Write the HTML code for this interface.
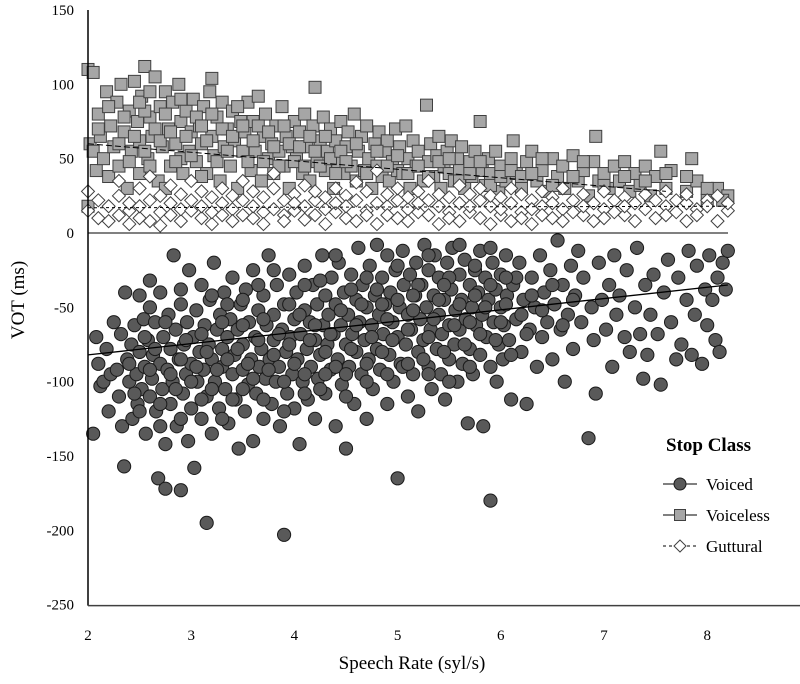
<!DOCTYPE html>
<html><head><meta charset="utf-8"><style>
body{margin:0;background:#fff;width:800px;height:684px;overflow:hidden}
svg{display:block;font-family:"Liberation Serif",serif}
</style></head><body>
<svg id="chart" width="800" height="684" viewBox="0 0 800 684">
<g id="marks"></g>
<g id="axes"></g>
</svg>
<script>
const xTicks=[2,3,4,5,6,7,8];
const yTicks=[150,100,50,0,-50,-100,-150,-200,-250];
const voicedXa=[2.05,2.08,2.1,2.12,2.15,2.18,2.2,2.22,2.28,2.3,2.32,2.33,2.35,2.36,2.38,2.4,2.42,2.43,2.45,2.47,2.48,2.5,2.5,2.52,2.54,2.55,2.56,2.58,2.6,2.6,2.62,2.63,2.65,2.66,2.68,2.7,2.7,2.72,2.73,2.75,2.75,2.77,2.78,2.8,2.8,2.82,2.83,2.85,2.86,2.88,2.9,2.9,2.92,2.93,2.95,2.96,2.97,2.98,3.0,3.0,3.02,3.03,3.05,3.06,3.08,3.1,3.1,3.12,3.13,3.15,3.15,3.17,3.18,3.2,3.2,3.22,3.23,3.25,3.27,3.28,3.3,3.3,3.32,3.33,3.35,3.36,3.38,3.4,3.4,3.42,3.43,3.45,3.46,3.48,3.5,3.5,3.52,3.53,3.55,3.56,3.58,3.6,3.6,3.62,3.63,3.65,3.66,3.68,3.7,3.7,3.72,3.73,3.75,3.76,3.78,3.8,3.8,3.82,3.83,3.85,3.86,3.88,3.9,3.9,3.92,3.93,3.95,3.96,3.98,4.0,4.0,4.02,4.03,4.05,4.06,4.08,4.1,4.1,4.12,4.13,4.15,4.16,4.18,4.2,4.2,4.22,4.23,4.25,4.27,4.28,4.3,4.3,4.32,4.33,4.35,4.36,4.38,4.4,4.4,4.42,4.43,4.45,4.46,4.48,4.5,4.5,4.52,4.53,4.55,4.56,4.58,4.6,4.6,4.62,4.63,4.65,4.66,4.68,4.7,4.7,4.72,4.73,4.75,4.76,4.78,4.8,4.8,4.82,4.83,4.85,4.86,4.88,4.9,4.9,4.92,4.93,4.95,4.96,4.98,5.0,5.0,5.02,5.03,5.05,5.06,5.08,5.1,5.1,5.12,5.13,5.15,5.17,5.18,5.2,5.2,5.22,5.23,5.25,5.26,5.28,5.3,5.3,5.32,5.33,5.35,5.36,5.38,5.4,5.4,5.42,5.43,5.45,5.46,5.48,5.5,5.5,5.52,5.53,5.55,5.56,5.58,5.6,5.6,5.62,5.63,5.65,5.66,5.68,5.7,5.7,5.72,5.73,5.75,5.76,5.78,5.8,5.8,5.82,5.83,5.85,5.86,5.88,5.9,5.9,5.92,5.93,5.95,5.96,5.98,6.0,6.0,6.02,6.03,6.05,6.06,6.08,6.1,6.12,6.15,6.18,6.2,6.22,6.25,6.28,6.3,6.33,6.35,6.38,6.4,6.42,6.45,6.48,6.5,6.52,6.55,6.58,6.6,6.62,6.65,6.68,6.7,6.72,6.75,6.78,6.8,6.85,6.88,6.9,6.92,6.95,6.98,7.02,7.05,7.08,7.1,7.12,7.15,7.2,7.22,7.25,7.3,7.32,7.35,7.38,7.4,7.42,7.45,7.48,7.52,7.55,7.58,7.62,7.65,7.7,7.72,7.75,7.8,7.82,7.85,7.88,7.9,7.95,7.98,8.0,8.02,8.05,8.08,8.1,8.12,8.15,8.18,8.2];
const voicedYa=[-135,-70,-88,-103,-100,-78,-120,-95,-92,-110,-68,-130,-157,-40,-85,-100,-75,-125,-62,-95,-115,-80,-42,-105,-58,-90,-135,-72,-110,-50,-98,-82,-60,-120,-165,-88,-40,-105,-70,-172,-142,-92,-55,-115,-78,-100,-15,-65,-130,-85,-173,-48,-108,-75,-95,-60,-140,-25,-88,-118,-70,-158,-52,-100,-80,-125,-35,-92,-62,-195,-110,-75,-45,-135,-85,-20,-100,-65,-118,-55,-90,-78,-40,-105,-70,-128,-58,-95,-30,-82,-112,-65,-145,-48,-92,-75,-120,-38,-102,-60,-85,-140,-25,-70,-108,-52,-90,-78,-125,-42,-98,-62,-15,-85,-115,-55,-72,-100,-35,-90,-130,-65,-203,-48,-80,-108,-28,-70,-95,-58,-118,-40,-85,-142,-68,-100,-22,-52,-78,-112,-60,-90,-35,-72,-125,-48,-98,-82,-15,-62,-108,-42,-75,-55,-92,-30,-68,-130,-48,-85,-20,-62,-102,-40,-75,-145,-55,-90,-28,-68,-115,-45,-80,-10,-60,-95,-35,-72,-50,-125,-85,-22,-62,-105,-42,-78,-8,-55,-92,-30,-68,-48,-115,-15,-82,-40,-60,-100,-25,-165,-70,-50,-88,-12,-35,-75,-110,-55,-28,-65,-95,-42,-20,-80,-120,-58,-35,-72,-8,-50,-90,-25,-65,-105,-42,-15,-78,-55,-30,-95,-68,-45,-112,-20,-62,-85,-38,-10,-75,-52,-100,-28,-65,-45,-88,-18,-58,-128,-35,-78,-50,-95,-25,-62,-40,-12,-82,-55,-130,-30,-70,-45,-180,-90,-20,-60,-38,-100,-75,-50,-28,-85,-62,-15,-42,-72,-112,-35,-58,-20,-80,-45,-115,-65,-30,-50,-90,-15,-70,-40,-60,-25,-85,-48,-5,-65,-35,-100,-55,-22,-78,-42,-12,-60,-30,-138,-50,-72,-108,-20,-45,-65,-35,-90,-15,-55,-42,-70,-25,-80,-50,-10,-68,-98,-35,-82,-55,-28,-68,-102,-40,-18,-60,-85,-30,-75,-45,-12,-82,-55,-22,-88,-38,-62,-15,-45,-72,-30,-80,-20,-38,-12];
const voicedXb=[2.25,2.4,2.45,2.55,2.6,2.65,2.7,2.75,2.8,2.85,2.9,2.95,3.0,3.05,3.1,3.15,3.2,3.25,3.3,3.35,3.4,3.45,3.5,3.55,3.6,3.65,3.7,3.75,3.8,3.85,3.9,3.95,4.0,4.05,4.1,4.15,4.2,4.25,4.3,4.35,4.4,4.45,4.5,4.55,4.6,4.65,4.7,4.75,4.8,4.85,4.9,4.95,5.0,5.05,5.1,5.15,5.2,5.25,5.3,5.35,5.4,5.45,5.5,5.55,5.6,5.65,5.7,5.75,5.8,5.85,5.9,5.95,6.0,6.05,6.1,6.15,6.2,6.25,6.3,6.4,6.5,6.6,6.7,2.5,2.7,2.9,3.1,3.3,3.5,3.7,3.9,4.1,4.3,4.5,4.7,4.9,5.1,5.3,5.5,5.7,2.6,2.9,3.2,3.5,3.8,4.1,4.4,4.7,5.0,5.3,5.6,5.9,3.35,3.65,3.95,4.25,4.55,4.85,5.15,5.45,5.75,6.05];
const voicedYb=[-60,-88,-108,-70,-92,-78,-115,-60,-95,-105,-85,-72,-100,-90,-68,-80,-105,-92,-60,-85,-112,-78,-62,-88,-98,-72,-58,-92,-82,-68,-100,-75,-88,-55,-95,-72,-62,-105,-80,-68,-90,-52,-95,-78,-62,-48,-88,-70,-38,-80,-58,-72,-45,-90,-65,-52,-35,-85,-70,-58,-45,-80,-30,-62,-48,-75,-60,-42,-68,-50,-35,-72,-60,-48,-82,-30,-55,-68,-42,-52,-35,-62,-45,-120,-130,-125,-112,-125,-105,-112,-120,-108,-95,-110,-100,-95,-88,-95,-100,-90,-32,-38,-42,-45,-25,-35,-15,-30,-22,-15,-8,-10,-48,-35,-48,-32,-38,-48,-42,-35,-22,-30];
const voicelessXa=[2.0,2.05,2.02,2.05,2.08,2.1,2.12,2.15,2.18,2.2,2.22,2.25,2.28,2.3,2.32,2.35,2.38,2.4,2.42,2.45,2.48,2.5,2.5,2.0,2.52,2.55,2.58,2.6,2.62,2.65,2.68,2.7,2.72,2.75,2.78,2.8,2.82,2.85,2.88,2.9,2.92,2.95,2.98,3.0,2.6,2.75,2.9,2.55,3.02,3.05,3.08,3.1,3.12,3.15,3.18,3.2,3.22,3.25,3.28,3.3,3.32,3.35,3.38,3.4,3.42,3.45,3.48,3.5,3.2,3.1,3.52,3.55,3.58,3.6,3.62,3.65,3.68,3.7,3.72,3.75,3.78,3.8,3.82,3.85,3.88,3.9,3.92,3.95,3.98,4.0,4.02,4.05,4.08,4.1,4.12,4.15,4.18,4.2,4.22,4.25,4.28,4.3,4.32,4.35,4.38,4.4,4.42,4.45,4.48,4.5,4.52,4.55,4.58,4.6,4.62,4.65,4.68,4.7,4.72,4.75,4.78,4.8,4.82,4.85,4.88,4.9,4.92,4.95,4.98,5.0,5.02,5.05,5.08,5.1,5.12,5.15,5.18,5.2,5.25,5.28,5.3,5.32,5.35,5.38,5.4,5.42,5.45,5.48,5.5,5.52,5.55,5.58,5.6,5.62,5.65,5.7,5.72,5.75,5.8,5.82,5.85,5.88,5.9,5.95,5.98,6.0,6.05,6.1,6.12,6.15,6.2,6.25,6.3,6.35,6.4,6.45,6.5,6.55,6.6,6.62,6.7,6.75,6.8,6.85,6.9,6.92,6.95,7.0,7.05,7.1,7.15,7.2,7.25,7.3,7.35,7.4,7.45,7.5,7.55,7.6,7.65,7.8,7.85,7.9,8.0,8.1,8.2,8.15];
const voicelessYa=[110,108,60,55,42,80,65,50,95,38,72,58,88,45,100,68,30,82,55,102,75,40,62,18,92,112,50,78,65,105,35,85,58,95,70,45,88,60,100,75,40,82,55,68,45,30,50,82,90,48,72,60,85,40,95,65,52,78,35,88,58,70,45,82,62,30,75,55,104,38,68,88,42,75,55,92,35,65,80,50,60,40,72,55,85,45,65,30,58,75,50,68,40,80,58,35,72,98,48,62,78,42,55,70,30,62,48,75,40,58,68,45,80,35,55,65,42,72,50,30,60,45,68,38,55,62,35,48,70,42,58,40,72,50,30,62,45,55,35,86,48,60,38,52,65,30,45,55,40,62,35,50,42,58,30,48,38,55,75,42,32,50,40,55,28,45,35,50,62,40,30,48,55,35,42,28,50,38,45,30,52,35,42,25,48,65,35,40,30,45,35,48,28,40,32,45,25,38,55,30,42,28,50,35,22,30,25,22];
const voicelessXb=[2.1,2.2,2.3,2.35,2.4,2.45,2.5,2.55,2.6,2.65,2.7,2.75,2.8,2.85,2.9,2.95,3.0,3.05,3.1,3.15,3.2,3.25,3.3,3.35,3.4,3.45,3.5,3.55,3.6,3.65,3.7,3.75,3.8,3.85,3.9,3.95,4.0,4.05,4.1,4.15,4.2,4.25,4.3,4.35,4.4,4.45,4.5,4.6,4.7,4.8,4.9,5.0,5.1,5.2,5.3,5.4,5.5,5.6,5.7,5.8,5.9,6.0,6.1,6.2,6.3,6.4,6.5,6.7,6.8,7.0,7.2,7.4,7.6,7.8,8.0];
const voicelessYb=[70,85,60,78,48,65,88,55,95,70,62,80,68,48,90,65,52,78,72,62,80,48,70,55,65,85,72,48,62,72,48,68,58,45,72,60,48,58,45,65,55,45,65,50,40,55,48,60,40,55,45,52,40,45,38,48,50,35,40,48,32,38,42,38,40,50,32,38,48,32,38,35,40,38,30];
const gutturalX=[2.0,2.0,2.1,2.1,2.2,2.2,2.3,2.3,2.3,2.4,2.4,2.4,2.5,2.5,2.5,2.6,2.6,2.6,2.7,2.7,2.7,2.8,2.8,2.8,2.9,2.9,2.9,3.0,3.0,3.0,3.1,3.1,3.1,3.2,3.2,3.2,3.3,3.3,3.3,3.4,3.4,3.4,3.5,3.5,3.5,3.6,3.6,3.6,3.7,3.7,3.7,3.8,3.8,3.8,3.9,3.9,3.9,4.0,4.0,4.0,4.1,4.1,4.1,4.2,4.2,4.2,4.3,4.3,4.3,4.4,4.4,4.4,4.5,4.5,4.5,4.6,4.6,4.6,4.7,4.7,4.7,4.8,4.8,4.8,4.9,4.9,4.9,5.0,5.0,5.0,5.1,5.1,5.1,5.2,5.2,5.2,5.3,5.3,5.3,5.4,5.4,5.4,5.5,5.5,5.5,5.6,5.6,5.6,5.7,5.7,5.7,5.8,5.8,5.8,5.9,5.9,5.9,6.0,6.0,6.0,6.1,6.1,6.1,6.2,6.2,6.2,6.3,6.3,6.3,6.4,6.4,6.4,6.5,6.5,6.5,6.6,6.6,6.6,6.7,6.7,6.8,6.8,6.8,6.9,6.9,7.0,7.0,7.0,7.1,7.1,7.2,7.2,7.2,7.3,7.3,7.4,7.4,7.5,7.5,7.6,7.6,7.6,7.7,7.7,7.8,7.8,7.8,7.9,7.9,8.0,8.0,8.1,8.1,8.2,8.2];
const gutturalY=[15,28,10,22,18,8,25,12,35,15,6,20,30,10,18,22,38,8,14,25,5,20,32,12,8,26,16,35,15,22,10,28,18,24,6,14,30,12,20,16,25,8,22,35,12,10,18,28,14,24,6,30,16,40,12,22,8,26,15,20,9,32,18,22,12,28,16,6,24,30,14,20,10,25,18,22,8,34,15,28,12,42,20,6,18,26,12,10,22,30,16,8,24,28,14,20,12,22,35,18,6,26,24,14,10,20,32,8,14,26,18,10,22,30,18,6,25,24,12,16,20,8,30,14,26,10,22,16,6,18,28,12,10,24,20,16,8,30,22,14,12,26,18,20,8,16,28,10,22,14,12,24,18,20,8,16,26,10,22,18,28,12,14,22,20,8,26,16,12,22,18,8,25,15,20];
const voicedTrend=[-82,-35], voicelessTrend=[60,28], gutturalTrend=[17,18];
const voicedX=voicedXa.concat(voicedXb), voicedY=voicedYa.concat(voicedYb);
const voicelessX=voicelessXa.concat(voicelessXb), voicelessY=voicelessYa.concat(voicelessYb);

const X0=88, XPU=103.2, Y0=233, YPU=1.4867;
const sx=v=>X0+(v-2)*XPU;
const sy=v=>Y0-v*YPU;
const NS='http://www.w3.org/2000/svg';
const marks=document.getElementById('marks');
const axes=document.getElementById('axes');
function mk(tag,attrs,parent){const e=document.createElementNS(NS,tag);for(const k in attrs)e.setAttribute(k,attrs[k]);parent.appendChild(e);return e;}

const zl=mk('line',{x1:X0,y1:sy(0),x2:728,y2:sy(0),stroke:'#000','stroke-width':1},axes);



for(let i=0;i<voicedX.length;i++){
  const c=mk('circle',{cx:sx(voicedX[i]),cy:sy(voicedY[i]),r:6.6,fill:'#595959',stroke:'#1a1a1a','stroke-width':1},marks);
  
  
}
for(let i=0;i<voicelessX.length;i++){
  const r=mk('rect',{x:sx(voicelessX[i])-6,y:sy(voicelessY[i])-6,width:12,height:12,fill:'#a6a6a6',stroke:'#404040','stroke-width':1},marks);
  
  
}
for(let i=0;i<gutturalX.length;i++){
  const x=sx(gutturalX[i]),y=sy(gutturalY[i]);
  const p=mk('polygon',{points:`${x},${y-6.5} ${x+6.5},${y} ${x},${y+6.5} ${x-6.5},${y}`,fill:'#fff',stroke:'#404040','stroke-width':1},marks);
  
  
}
const t1=mk('line',{x1:sx(2),y1:sy(voicedTrend[0]),x2:sx(8.2),y2:sy(voicedTrend[1]),stroke:'#000','stroke-width':1.3},marks);


const t2=mk('line',{x1:sx(2),y1:sy(voicelessTrend[0]),x2:sx(7.6),y2:sy(voicelessTrend[1]),stroke:'#000','stroke-width':1,'stroke-dasharray':'6,3'},marks);


const t3=mk('line',{x1:sx(2),y1:sy(gutturalTrend[0]),x2:sx(8.2),y2:sy(gutturalTrend[1]),stroke:'#000','stroke-width':1,'stroke-dasharray':'3,3'},marks);



const ya=mk('line',{x1:X0,y1:sy(150),x2:X0,y2:sy(-250)+1,stroke:'#000','stroke-width':1.5},axes);


const xa=mk('line',{x1:X0,y1:sy(-250)+1,x2:800,y2:sy(-250)+1,stroke:'#404040','stroke-width':1.5},axes);


yTicks.forEach(v=>{
  const t=mk('text',{x:74,y:sy(v)+5,'text-anchor':'end','font-size':15,fill:'#000'},axes);
  t.textContent=v;
  
  
});
xTicks.forEach(v=>{
  const t=mk('text',{x:sx(v),y:640,'text-anchor':'middle','font-size':15,fill:'#000'},axes);
  t.textContent=v;
  
  
});
const xt=mk('text',{x:412,y:669,'text-anchor':'middle','font-size':19,fill:'#000'},axes);
xt.textContent='Speech Rate (syl/s)';


const yt=mk('text',{x:0,y:0,'text-anchor':'middle','font-size':19,fill:'#000',transform:'translate(24,300) rotate(-90)'},axes);
yt.textContent='VOT (ms)';



const lg=mk('g',{},axes);


const lt=mk('text',{x:666,y:451,'font-size':19,'font-weight':'bold',fill:'#000'},lg);
lt.textContent='Stop Class';


const entries=[['Voiced',484],['Voiceless',515],['Guttural',546]];
entries.forEach((e,i)=>{
  const g=mk('g',{},lg);
  
  
  const y=e[1];
  mk('line',{x1:663,y1:y,x2:697,y2:y,stroke:'#000','stroke-width':1,'stroke-dasharray':i==2?'3,3':'none'},g);
  if(i==0)mk('circle',{cx:680,cy:y,r:6,fill:'#595959',stroke:'#1a1a1a'},g);
  if(i==1)mk('rect',{x:674.5,y:y-5.5,width:11,height:11,fill:'#a6a6a6',stroke:'#404040'},g);
  if(i==2)mk('polygon',{points:`680,${y-6} 686,${y} 680,${y+6} 674,${y}`,fill:'#fff',stroke:'#404040'},g);
  const t=mk('text',{x:706,y:y+6,'font-size':17,fill:'#000'},g);
  t.textContent=e[0];
});
</script>
</body></html>
